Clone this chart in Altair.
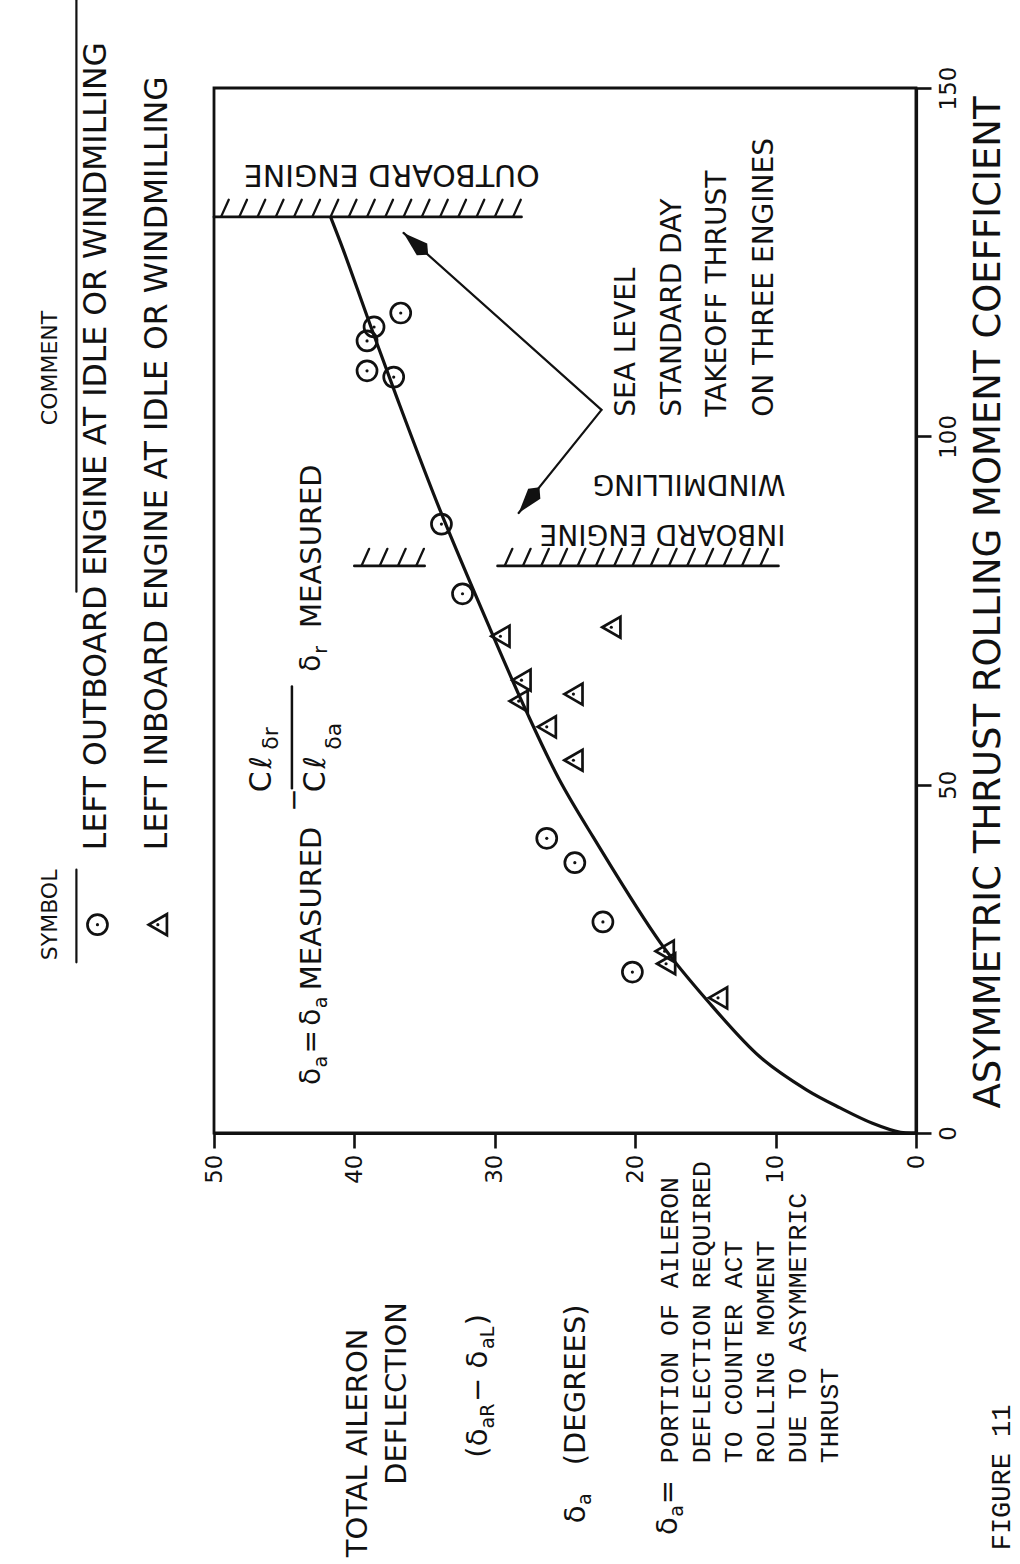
import altair as alt
import numpy as np
import pandas as pd

INK = "#111111"

# ---------------- axis ticks ----------------
DEFL_TICKS = [0, 10, 20, 30, 40, 50]
COEF_TICKS = [0, 50, 100, 150]
AX_TITLE = "ASYMMETRIC THRUST ROLLING MOMENT COEFFICIENT"

# ---------------- data ----------------
# faired curve: total aileron deflection vs rolling moment coefficient
curve_defl = [0, 1.1, 3.1, 5.4, 7.8, 11.1, 14.9, 18.2, 23.0, 25.4, 27.7, 30.3, 33.9, 37.0, 39.0, 40.8, 41.7]
curve_coef = [0, 0.1, 1.4, 3.6, 6.2, 10.9, 19.1, 27.3, 42.5, 50.7, 60.3, 72.2, 89.4, 105.7, 116.7, 126.8, 131.5]

# left outboard engine at idle or windmilling (circles)
out_defl = [20.2, 22.3, 24.3, 26.3, 32.3, 33.8, 36.7, 38.6, 39.1, 39.1, 37.2]
out_coef = [23.1, 30.3, 38.8, 42.3, 77.4, 87.4, 117.7, 115.7, 113.7, 109.4, 108.5]

# left inboard engine at idle or windmilling (triangles)
in_defl = [29.6, 21.7, 28.1, 24.4, 28.3, 26.3, 24.4, 17.9, 17.8, 14.1]
in_coef = [71.3, 72.6, 65.0, 63.0, 62.0, 58.3, 53.5, 26.1, 24.3, 19.4]

LEGEND_LABELS = ["LEFT OUTBOARD ENGINE AT IDLE OR WINDMILLING",
                 "LEFT INBOARD ENGINE AT IDLE OR WINDMILLING"]
NOTE_LINES = ["SEA LEVEL", "STANDARD DAY", "TAKEOFF THRUST", "ON THREE ENGINES"]
DEF_LINES = ["PORTION OF AILERON", "DEFLECTION REQUIRED", "TO COUNTER ACT",
             "ROLLING MOMENT", "DUE TO ASYMMETRIC", "THRUST"]

# ---------------- annotation placement (data units) ----------------
LEG_SYM_D = [58.3, 54.0]
LEG_SYM_C = [29.9, 29.9]
LEG_TXT_D = [58.3, 54.0]
LEG_TXT_C = 40.6
NOTE_D = [20.6, 17.3, 14.1, 10.75]
NOTE_C = 102.8
DEF_D = [17.52, 15.24, 12.96, 10.68, 8.40, 6.13]
DEF_C = -47.4

ARROW_FROM = (22.4, 103.8)
ARROW_TIPS_D = [36.5, 28.3]
ARROW_TIPS_C = [129.2, 89.0]
ARROW_ANG = [311.7, 219.1]

# hatched limit lines: (defl start, defl end, coef)
HATCHES = [(50.0, 28.1, 131.5), (40.0, 35.0, 81.4), (29.8, 9.8, 81.4)]

# ---------------- scales / axes ----------------
XS = alt.Scale(domain=[0, 50], reverse=True, nice=False, zero=False)
YS = alt.Scale(domain=[0, 150], nice=False, zero=False)
XAX = alt.Axis(orient="bottom", values=DEFL_TICKS, labelAngle=270, labelAlign="right",
               labelBaseline="middle", labelFlush=False, labelOverlap=False, tickSize=15,
               labelPadding=6, labelFontSize=23, grid=False, title="")
YAX = alt.Axis(orient="right", values=COEF_TICKS, labelAngle=270, labelAlign="center",
               labelBaseline="top", labelFlush=False, labelOverlap=False, tickSize=15,
               labelPadding=6, labelFontSize=23, grid=False, title=AX_TITLE,
               titleAngle=270, titleAlign="center", titleBaseline="top", titleFontSize=37,
               titleFontWeight="normal", titleX=54, titleY=514)


def ex(f="d"):
    return alt.X(f"{f}:Q", scale=XS, axis=XAX)


def ey(f="c"):
    return alt.Y(f"{f}:Q", scale=YS, axis=YAX)


# ---------------- layers ----------------
curve = alt.Chart(pd.DataFrame({"d": curve_defl, "c": curve_coef})).mark_line(
    color=INK, strokeWidth=3.2, interpolate="catmull-rom").encode(x=ex(), y=ey(), order="d:Q")

circ_df = pd.DataFrame({"d": out_defl + LEG_SYM_D[:1], "c": out_coef + LEG_SYM_C[:1]})
tri_df = pd.DataFrame({"d": in_defl + LEG_SYM_D[1:], "c": in_coef + LEG_SYM_C[1:]})

circles = alt.Chart(circ_df).mark_point(shape="circle", filled=False, size=400,
                                        strokeWidth=2.7, color=INK, opacity=1).encode(x=ex(), y=ey())
tris = alt.Chart(tri_df).mark_point(shape="triangle-left", filled=False, size=440,
                                    strokeWidth=2.7, color=INK, opacity=1).encode(x=ex(), y=ey())
dots = alt.Chart(pd.concat([circ_df, tri_df])).mark_point(
    shape="circle", filled=True, size=10, color=INK, opacity=1).encode(x=ex(), y=ey())

# segments: underlines, fraction bar, arrow shafts, hatch lines
seg = [
    (59.8, 24.5, 59.8, 37.8, 2.2),
    (59.8, 77.7, 59.8, 162.6, 2.2),
    (44.45, 49.5, 44.45, 64.1, 2.5),
]
for td, tc in zip(ARROW_TIPS_D, ARROW_TIPS_C):
    seg.append((ARROW_FROM[0], ARROW_FROM[1], td, tc, 2.2))
for d0, d1, c in HATCHES:
    seg.append((d0, c, d1, c, 2.8))
    for d in np.arange(d0 - 0.5, d1 + 0.3, -1.3):
        seg.append((d, c, d - 0.55, c + 2.45, 2.3))
seg_df = pd.DataFrame(seg, columns=["d", "c", "d2", "c2", "w"])
rules = alt.Chart(seg_df).mark_rule(color=INK, strokeCap="round").encode(
    x=ex(), y=ey(), x2=alt.X2("d2:Q"), y2=alt.Y2("c2:Q"),
    strokeWidth=alt.StrokeWidth("w:Q", scale=None))

heads = alt.Chart(pd.DataFrame({"d": ARROW_TIPS_D, "c": ARROW_TIPS_C, "a": ARROW_ANG})).mark_point(
    shape="M0,0L0.38,1.2L0,1.6L-0.38,1.2Z", filled=True, size=1700, color=INK, opacity=1
).encode(x=ex(), y=ey(), angle=alt.Angle("a:Q", scale=None))

# ---------------- text ----------------
sans = [
    ("SYMBOL", 61.7, 24.8, 22, 270),
    ("COMMENT", 61.7, 101.6, 22, 270),
    (LEGEND_LABELS[0], LEG_TXT_D[0], LEG_TXT_C, 31.5, 270),
    (LEGEND_LABELS[1], LEG_TXT_D[1], LEG_TXT_C, 31.5, 270),
    ("OUTBOARD ENGINE", 26.8, 137.6, 30, 180),
    ("INBOARD ENGINE", 9.3, 86.1, 28, 180),
    ("WINDMILLING", 9.3, 93.3, 28, 180),
    # formula inside the plot
    ("δ", 43.0, 6.9, 28, 270),
    ("a", 42.35, 9.4, 19, 270),
    ("=", 43.0, 11.4, 28, 270),
    ("δ", 43.0, 15.4, 28, 270),
    ("a", 42.35, 17.9, 19, 270),
    ("MEASURED", 43.0, 20.5, 29, 270),
    ("−", 44.2, 46.1, 28, 270),
    ("C", 46.6, 48.9, 30, 270),
    ("ℓ", 46.6, 52.3, 30, 270),
    ("δr", 45.95, 55.0, 22, 270),
    ("C", 42.7, 48.9, 30, 270),
    ("ℓ", 42.7, 52.3, 30, 270),
    ("δa", 41.45, 55.0, 22, 270),
    ("δ", 43.0, 66.2, 28, 270),
    ("r", 42.35, 68.8, 19, 270),
    ("MEASURED", 43.0, 72.5, 29, 270),
    # y-axis description block
    ("TOTAL AILERON", 39.74, -60.9, 29, 270),
    ("DEFLECTION", 36.97, -50.5, 29, 270),
    ("(δ", 31.2, -46.6, 29, 270),
    ("aR", 30.5, -42.4, 19, 270),
    ("− δ", 31.2, -38.6, 29, 270),
    ("aL", 30.5, -31.0, 19, 270),
    (")", 31.2, -27.6, 29, 270),
    ("δ", 24.2, -56.0, 29, 270),
    ("a", 23.6, -53.4, 19, 270),
    ("(DEGREES)", 24.2, -47.7, 29, 270),
    ("δ", 17.66, -57.7, 29, 270),
    ("a", 17.0, -55.1, 19, 270),
    ("=", 17.66, -53.3, 29, 270),
]
for t, d in zip(NOTE_LINES, NOTE_D):
    sans.append((t, d, NOTE_C, 28, 270))

mono = [(t, d, DEF_C, 26.5, 270) for t, d in zip(DEF_LINES, DEF_D)]
mono.append(("FIGURE 11", -6.13, -59.9, 27, 270))

cols = ["t", "d", "c", "s", "a"]


def text_layer(rows, font):
    return alt.Chart(pd.DataFrame(rows, columns=cols)).mark_text(
        align="left", baseline="middle", font=font, color=INK
    ).encode(x=ex(), y=ey(), text="t:N",
             size=alt.Size("s:Q", scale=None), angle=alt.Angle("a:Q", scale=None))


chart = alt.layer(
    rules, curve, circles, tris, dots, heads,
    text_layer(sans, "DejaVu Sans"), text_layer(mono, "Liberation Mono"),
).properties(
    width=702, height=1045,
    autosize=alt.AutoSizeParams(type="none"),
    padding={"left": 214, "top": 88, "right": 104, "bottom": 431},
    background="white",
).configure_view(stroke=INK, strokeWidth=2.8).configure_axis(
    domainColor=INK, domainWidth=3.2, tickColor=INK, tickWidth=2.6,
    labelColor=INK, titleColor=INK, labelFont="DejaVu Sans", titleFont="DejaVu Sans",
)

chart.save("out.html", embed_options={"renderer": "svg", "actions": False})
